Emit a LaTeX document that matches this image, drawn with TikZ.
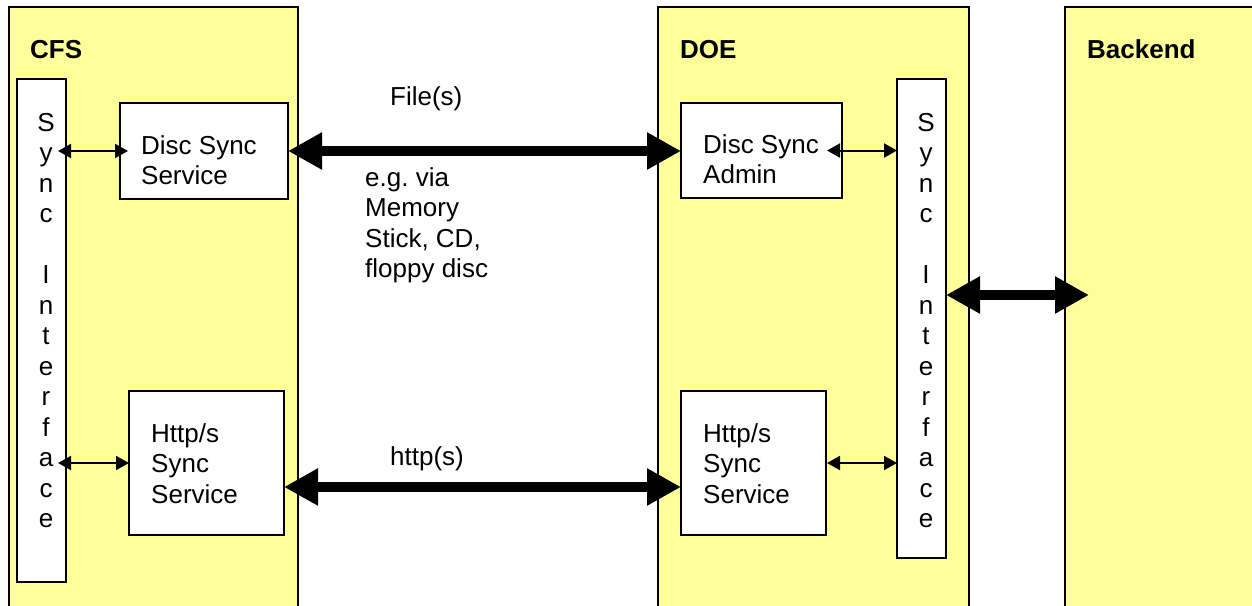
\documentclass[tikz,border=0pt]{standalone}
\usepackage{fontspec}
\setmainfont{Liberation Sans}
\usetikzlibrary{arrows.meta}
\definecolor{paneyellow}{HTML}{FFFF99}
\frenchspacing
\begin{document}
\begin{tikzpicture}[x=1pt,y=-1pt,
  font=\fontsize{26}{30.5}\selectfont,
  panel/.style={draw, line width=2pt, fill=paneyellow, inner sep=0pt, outer sep=0pt, anchor=north west},
  box/.style={draw, line width=2pt, fill=white, inner sep=0pt, outer sep=0pt, anchor=north west},
  txt/.style={inner sep=0pt, anchor=base west, align=left},
  vtxt/.style={inner sep=0pt, anchor=base, align=center},
  bigarrow/.style={line width=10pt, {Triangle[width=35pt,length=34pt]}-{Triangle[width=35pt,length=34pt]}},
  smallarrow/.style={line width=2pt, {Triangle[width=14pt,length=13pt]}-{Triangle[width=14pt,length=13pt]}}]
\useasboundingbox (0,0) rectangle (1252,605);
\clip (0,0) rectangle (1252,605);
% panels
\node[panel, minimum width=289, minimum height=620] (cfs) at (9,7) {};
\node[panel, minimum width=311, minimum height=620] (doe) at (658,7) {};
\node[panel, minimum width=220, minimum height=620] (bkd) at (1065,7) {};
\node[txt, font=\fontsize{26}{30.5}\selectfont\bfseries] (cfst) at (30,58) {CFS};
\node[txt, font=\fontsize{26}{30.5}\selectfont\bfseries] (doet) at (680,58) {DOE};
\node[txt, font=\fontsize{26}{30.5}\selectfont\bfseries] (bkdt) at (1087,58) {Backend};
% inner boxes
\node[box, minimum width=49, minimum height=503] (csi) at (17,79) {};
\node[box, minimum width=168, minimum height=96] (dss) at (120,103) {};
\node[box, minimum width=155, minimum height=144] (chs) at (129,391) {};
\node[box, minimum width=161, minimum height=95] (dsa) at (681,103) {};
\node[box, minimum width=49, minimum height=479] (dsi) at (897,79) {};
\node[box, minimum width=145, minimum height=144] (dhs) at (681,391) {};
% texts (anchor = baseline of the last line)
\node[vtxt] (csitx) at (46,527.5) {S\\y\\n\\c\\\mbox{}\\I\\n\\t\\e\\r\\f\\a\\c\\e};
\node[vtxt] (dsitx) at (926,527.5) {S\\y\\n\\c\\\mbox{}\\I\\n\\t\\e\\r\\f\\a\\c\\e};
\node[txt] (dsstx) at (141,184.5) {Disc Sync\\Service};
\node[txt] (chstx) at (151,503) {Http/s\\Sync\\Service};
\node[txt] (dsatx) at (703,183.5) {Disc Sync\\Admin};
\node[txt] (dhstx) at (703,503) {Http/s\\Sync\\Service};
\node[txt] (filet) at (390,105) {File(s)};
\node[txt] (viat) at (365,277.5) {e.g. via\\Memory\\Stick, CD,\\floppy disc};
\node[txt] (httpt) at (390,465) {http(s)};
% big arrows
\draw[bigarrow] (dss.east) -- (dss.east -| dsa.west);
\path ([yshift=-24pt]chs.east) coordinate (hA);
\draw[bigarrow] (hA) -- (hA -| dhs.west);
\coordinate (bkend) at (1089,295);
\draw[bigarrow] (dsi.east |- bkend) -- (bkend);
% small arrows
\coordinate (s1) at (csi.east |- dss.west);
\draw[smallarrow] ([xshift=-8pt]s1) -- ([xshift=8pt]dss.west);
\coordinate (s2) at (csi.east |- chs.west);
\draw[smallarrow] ([xshift=-8pt]s2) -- (chs.west);
\coordinate (s3) at (dsi.west |- dsa.east);
\draw[smallarrow] ([xshift=-15pt]dsa.east) -- (s3);
\coordinate (s4) at (dsi.west |- dhs.east);
\draw[smallarrow] ([xshift=1pt]dhs.east) -- (s4);
\end{tikzpicture}
\end{document}
